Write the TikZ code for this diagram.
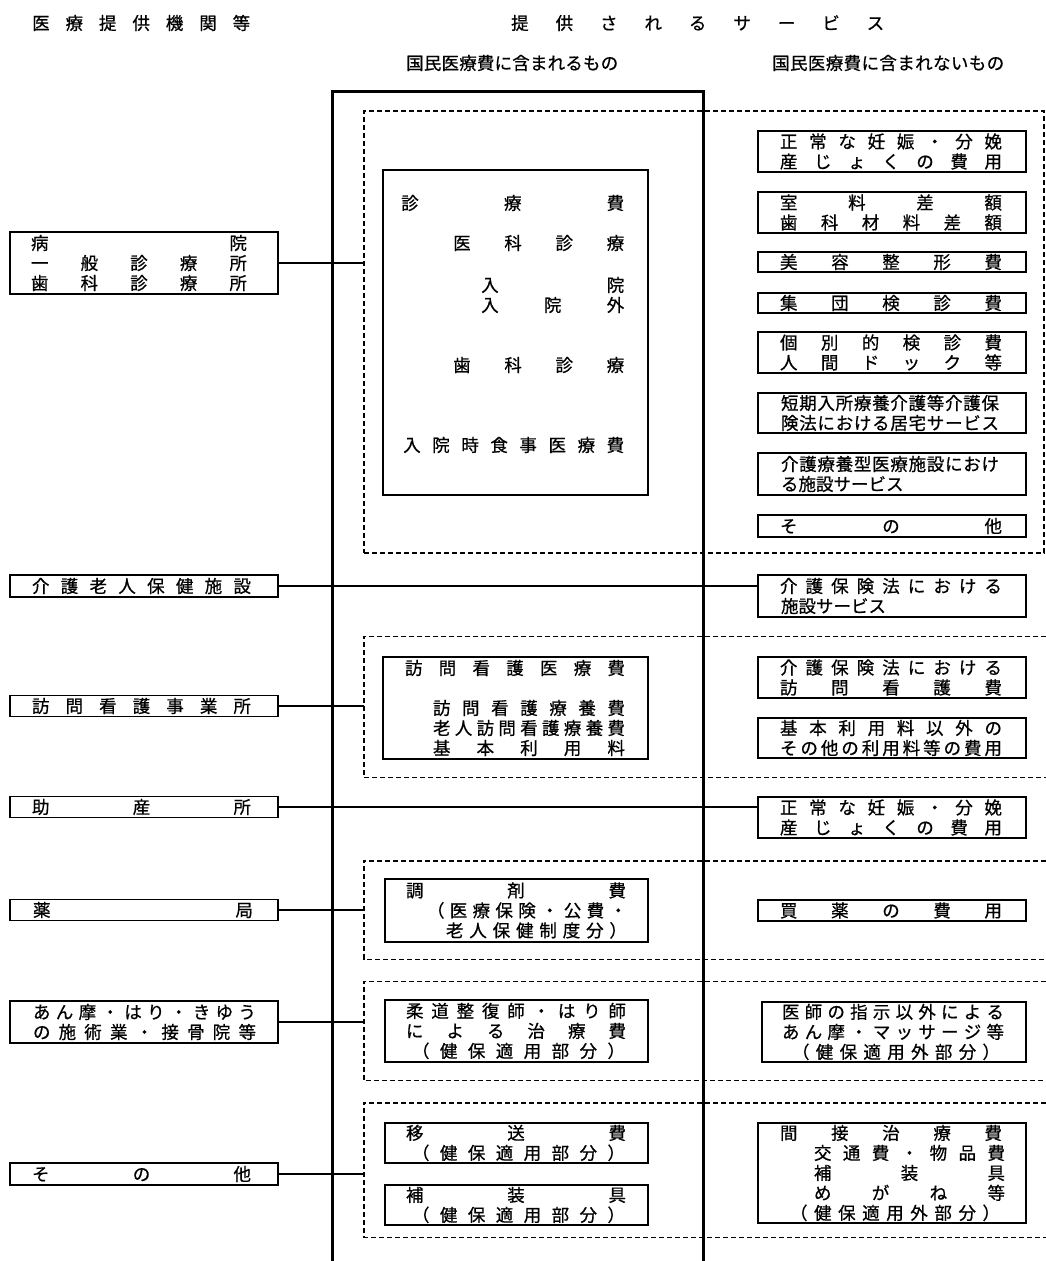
\documentclass[tikz,border=0pt]{standalone}
\usepackage{fontspec}
\setmainfont{Noto Sans CJK JP}[FakeBold=0.7]
\makeatletter
\def\spr@A#1{\ifx\relax#1\else\hfil#1\expandafter\spr@A\fi}
\def\spr@B#1{#1\spr@A}
\newcommand\sprd[2]{\makebox[#1pt][s]{\spr@B#2\relax}}
\newcommand\lne[3]{\hspace*{#1pt}\sprd{#2}{#3}}
\makeatother
\newcommand\fs{\fontsize{17.5}{20}\selectfont}
\begin{document}
\begin{tikzpicture}[x=1pt,y=-1pt,
  txt/.style={inner sep=0pt, font=\fs, anchor=west},
  bx/.style={draw, line width=1.5pt, inner sep=0pt, align=left, font=\fs},
  grp/.style={inner sep=0pt},
  dsh/.style={dash pattern=on 5pt off 3pt, line width=1.4pt},
  con/.style={line width=1.4pt},
  frm/.style={line width=3pt, line join=miter}]
\useasboundingbox (0,0) rectangle (1046,1261);

% headers
\node[txt] (H1) at (32,23) {\sprd{218}{医療提供機関等}};
\node[txt] (H2) at (511,23) {\sprd{373}{提供されるサービス}};
\node[txt] (H3) at (406,63) {\sprd{212}{国民医療費に含まれるもの}};
\node[txt] (H4) at (772,63) {\sprd{232}{国民医療費に含まれないもの}};

% dashed groups
\node[grp, draw, dsh, minimum width=680pt, minimum height=442pt] (G1) at (704,332) {};
\node[grp, minimum width=682pt, minimum height=141pt] (G2) at (705,707) {};
\node[grp, minimum width=682pt, minimum height=98pt] (G3) at (705,910) {};
\node[grp, minimum width=682pt, minimum height=99pt] (G4) at (705,1031) {};
\node[grp, minimum width=682pt, minimum height=134pt] (G5) at (705,1170) {};
\foreach \g in {G2,G3,G4,G5}
  \draw[dsh] (\g.north east) -- (\g.north west) -- (\g.south west) -- (\g.south east);

% main frame
\draw[frm] (332,1261) -- (332,91) -- (703,91) -- (703,1261);

% left boxes
\node[bx, text width=268pt, minimum height=62pt] (L1) at (144,263)
  {\lne{21}{216}{病院}\\\lne{21}{216}{一般診療所}\\\lne{21}{216}{歯科診療所}};
\node[bx, text width=268pt, minimum height=22pt] (L2) at (144,586)
  {\lne{22}{219}{介護老人保健施設}};
\node[bx, text width=268pt, minimum height=21pt] (L3) at (144,706)
  {\lne{22}{219}{訪問看護事業所}};
\node[bx, text width=268pt, minimum height=21pt] (L4) at (144,807)
  {\lne{22}{219}{助産所}};
\node[bx, text width=268pt, minimum height=21pt] (L5) at (144,910)
  {\lne{23}{220}{薬局}};
\node[bx, text width=268pt, minimum height=42pt] (L6) at (144,1022)
  {\lne{23}{223}{あん摩・はり・きゆう}\\\lne{23}{223}{の施術業・接骨院等}};
\node[bx, text width=268pt, minimum height=22pt] (L7) at (144,1174)
  {\lne{22}{219}{その他}};

% middle boxes
\node[bx, minimum width=265pt, minimum height=325pt] (M1) at (515.5,332.5) {};
\node[txt] (M1a) at (401,203) {\sprd{223}{診療費}};
\node[txt] (M1b) at (453,243) {\sprd{171}{医科診療}};
\node[txt] (M1c) at (481,285) {\sprd{143}{入院}};
\node[txt] (M1d) at (481,305) {\sprd{143}{入院外}};
\node[txt] (M1e) at (453,365) {\sprd{171}{歯科診療}};
\node[txt] (M1f) at (403,445) {\sprd{221}{入院時食事医療費}};

\node[bx, text width=265pt, minimum height=102pt] (M2) at (515.5,708)
  {\lne{22}{220}{訪問看護医療費}\\[20pt]\lne{50}{192}{訪問看護療養費}\\\lne{50}{192}{老人訪問看護療養費}\\\lne{50}{192}{基本利用料}};
\node[bx, text width=263pt, minimum height=63pt] (M3) at (516.5,910.5)
  {\lne{21}{220}{調剤費}\\\lne{42}{200}{（医療保険・公費・}\\\lne{61}{181}{老人保健制度分）}};
\node[bx, text width=263pt, minimum height=62pt] (M4) at (516.5,1031)
  {\lne{21}{220}{柔道整復師・はり師}\\\lne{21}{220}{による治療費}\\\lne{27}{213}{（健保適用部分）}};
\node[bx, text width=263pt, minimum height=40pt] (M5) at (516.5,1143)
  {\lne{21}{220}{移送費}\\\lne{27}{213}{（健保適用部分）}};
\node[bx, text width=263pt, minimum height=40pt] (M6) at (516.5,1205)
  {\lne{21}{220}{補装具}\\\lne{27}{213}{（健保適用部分）}};

% right boxes
\node[bx, text width=268pt, minimum height=41pt] (R1) at (892,151.5)
  {\lne{22}{222}{正常な妊娠・分娩}\\\lne{22}{222}{産じょくの費用}};
\node[bx, text width=268pt, minimum height=41pt] (R2) at (892,212.5)
  {\lne{22}{222}{室料差額}\\\lne{22}{222}{歯科材料差額}};
\node[bx, text width=268pt, minimum height=20pt] (R3) at (892,262)
  {\lne{22}{222}{美容整形費}};
\node[bx, text width=268pt, minimum height=20pt] (R4) at (892,303)
  {\lne{22}{222}{集団検診費}};
\node[bx, text width=268pt, minimum height=41pt] (R5) at (892,352.5)
  {\lne{22}{222}{個別的検診費}\\\lne{22}{222}{人間ドック等}};
\node[bx, text width=268pt, minimum height=40pt] (R6) at (892,413)
  {\lne{23}{218}{短期入所療養介護等介護保}\\\lne{23}{218}{険法における居宅サービス}};
\node[bx, text width=268pt, minimum height=42pt] (R7) at (892,474)
  {\lne{23}{218}{介護療養型医療施設におけ}\\\hspace*{23pt}る施設サービス};
\node[bx, text width=268pt, minimum height=22pt] (R8) at (892,526)
  {\lne{22}{222}{その他}};
\node[bx, text width=268pt, minimum height=42pt] (R9) at (892,596)
  {\lne{22}{222}{介護保険法における}\\\hspace*{23pt}施設サービス};
\node[bx, text width=268pt, minimum height=41pt] (R10) at (892,677.5)
  {\lne{22}{222}{介護保険法における}\\\lne{22}{222}{訪問看護費}};
\node[bx, text width=268pt, minimum height=40pt] (R11) at (892,738)
  {\lne{22}{222}{基本利用料以外の}\\\lne{22}{222}{その他の利用料等の費用}};
\node[bx, text width=268pt, minimum height=41pt] (R12) at (892,817.5)
  {\lne{22}{222}{正常な妊娠・分娩}\\\lne{22}{222}{産じょくの費用}};
\node[bx, text width=268pt, minimum height=21pt] (R13) at (892,910.5)
  {\lne{22}{222}{買薬の費用}};
\node[bx, text width=264pt, minimum height=60pt] (R14) at (894,1032)
  {\lne{20}{222}{医師の指示以外による}\\\lne{20}{222}{あん摩・マッサージ等}\\\lne{30}{208}{（健保適用外部分）}};
\node[bx, text width=268pt, minimum height=100pt] (R15) at (892,1173)
  {\lne{22}{222}{間接治療費}\\\lne{56}{191}{交通費・物品費}\\\lne{56}{191}{補装具}\\\lne{56}{191}{めがね等}\\\lne{32}{210}{（健保適用外部分）}};

% connectors
\draw[con] (L1.east) -- (L1.east -| G1.west);
\draw[con] (L2.east) -- (L2.east -| R9.west);
\draw[con] (L3.east) -- (L3.east -| G2.west);
\draw[con] (L4.east) -- (L4.east -| R12.west);
\draw[con] (L5.east) -- (L5.east -| G3.west);
\draw[con] (L6.east) -- (L6.east -| G4.west);
\draw[con] (L7.east) -- (L7.east -| G5.west);
\end{tikzpicture}
\end{document}
